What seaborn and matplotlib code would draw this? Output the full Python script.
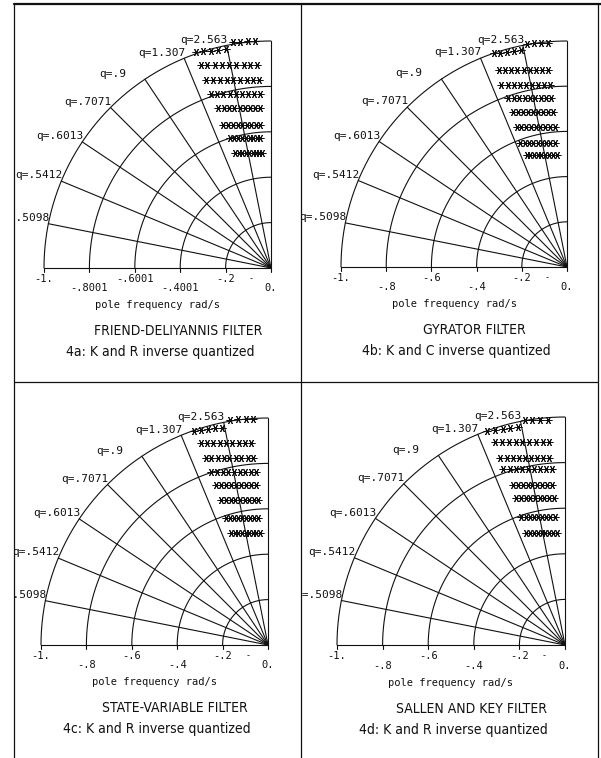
"""
Pole-position plots for four quantized active filters (4a-4d).

Each panel is a quarter of the s-plane with constant-q radial lines,
constant pole-frequency arcs and the quantized pole locations as stars.
"""

import matplotlib
matplotlib.use("Agg")
import matplotlib.pyplot as plt
from matplotlib import font_manager
from matplotlib.lines import Line2D
import numpy as np
import pandas as pd
import seaborn as sns

# ---------------------------------------------------------------------------
# Data
# ---------------------------------------------------------------------------
Q_VALUES = [0.5098, 0.5412, 0.6013, 0.7071, 0.9, 1.307, 2.563]
Q_LABELS = ["q=.5098", "q=.5412", "q=.6013", "q=.7071", "q=.9", "q=1.307", "q=2.563"]
ARC_RADII = [0.2, 0.4, 0.6, 0.8, 1.0]

TICK_VALUES = [-1.0, -0.8, -0.6, -0.4, -0.2, 0.0]
TICK_LABELS_A = ["-1.", "-.8001", "-.6001", "-.4001", "-.2", "0."]
TICK_LABELS = ["-1.", "-.8", "-.6", "-.4", "-.2", "0."]
X_LABEL = "pole frequency rad/s"

TITLES = ["FRIEND-DELIYANNIS FILTER", "GYRATOR FILTER",
          "STATE-VARIABLE FILTER", "SALLEN AND KEY FILTER"]
SUBTITLES = ["4a: K and R inverse quantized", "4b: K and C inverse quantized",
             "4c: K and R inverse quantized", "4d: K and R inverse quantized"]

# star rows (pole locations), top row first
STARS_A_X = [
    [-0.330, -0.298, -0.266, -0.234, -0.200, -0.168, -0.135, -0.103, -0.072],
    [-0.310, -0.280, -0.248, -0.216, -0.184, -0.152, -0.121, -0.091, -0.062],
    [-0.286, -0.256, -0.226, -0.196, -0.166, -0.136, -0.107, -0.079, -0.053],
    [-0.264, -0.238, -0.210, -0.182, -0.155, -0.127, -0.100, -0.073, -0.048],
    [-0.233, -0.209, -0.185, -0.161, -0.137, -0.114, -0.091, -0.069, -0.048],
    [-0.211, -0.190, -0.168, -0.147, -0.126, -0.106, -0.086, -0.067, -0.048],
    [-0.181, -0.163, -0.145, -0.128, -0.111, -0.094, -0.078, -0.063, -0.048],
    [-0.159, -0.143, -0.127, -0.111, -0.096, -0.081, -0.067, -0.053, -0.040],
]
STARS_A_TOP_Y = [0.952, 0.955, 0.958, 0.962, 0.966, 0.995, 0.997, 0.998, 0.999]
STARS_A_ROW_Y = [0.894, 0.828, 0.767, 0.705, 0.630, 0.573, 0.507]

STARS_B_X = [
    [-0.325, -0.295, -0.265, -0.235, -0.205, -0.175, -0.145, -0.113, -0.082],
    [-0.303, -0.276, -0.248, -0.220, -0.192, -0.165, -0.137, -0.110, -0.082],
    [-0.290, -0.263, -0.236, -0.209, -0.183, -0.156, -0.130, -0.103, -0.077],
    [-0.259, -0.235, -0.211, -0.188, -0.164, -0.140, -0.116, -0.093, -0.069],
    [-0.237, -0.215, -0.193, -0.171, -0.149, -0.127, -0.105, -0.082, -0.060],
    [-0.223, -0.202, -0.181, -0.160, -0.139, -0.118, -0.097, -0.076, -0.055],
    [-0.206, -0.187, -0.168, -0.149, -0.130, -0.112, -0.093, -0.074, -0.055],
    [-0.179, -0.162, -0.146, -0.129, -0.113, -0.096, -0.079, -0.063, -0.046],
]
STARS_B_TOP_Y = [0.945, 0.948, 0.951, 0.955, 0.960, 0.988, 0.990, 0.991, 0.992]
STARS_B_ROW_Y = [0.872, 0.805, 0.748, 0.686, 0.619, 0.549, 0.496]

STARS_C_X = [
    [-0.328, -0.297, -0.266, -0.235, -0.204, -0.168, -0.134, -0.099, -0.064],
    [-0.297, -0.269, -0.241, -0.213, -0.185, -0.157, -0.129, -0.101, -0.073],
    [-0.275, -0.249, -0.222, -0.196, -0.170, -0.143, -0.117, -0.090, -0.064],
    [-0.249, -0.224, -0.199, -0.175, -0.150, -0.125, -0.100, -0.076, -0.051],
    [-0.227, -0.205, -0.183, -0.161, -0.139, -0.117, -0.095, -0.073, -0.051],
    [-0.205, -0.185, -0.164, -0.144, -0.124, -0.103, -0.083, -0.062, -0.042],
    [-0.187, -0.169, -0.151, -0.133, -0.115, -0.096, -0.078, -0.060, -0.042],
    [-0.161, -0.146, -0.130, -0.115, -0.099, -0.084, -0.068, -0.053, -0.037],
]
STARS_C_TOP_Y = [0.944, 0.947, 0.950, 0.954, 0.958, 0.992, 0.994, 0.995, 0.996]
STARS_C_ROW_Y = [0.890, 0.824, 0.762, 0.705, 0.639, 0.559, 0.493]

STARS_D_X = [
    [-0.340, -0.307, -0.274, -0.241, -0.208, -0.176, -0.143, -0.110, -0.075],
    [-0.305, -0.275, -0.246, -0.216, -0.187, -0.157, -0.127, -0.098, -0.068],
    [-0.283, -0.256, -0.229, -0.202, -0.176, -0.149, -0.122, -0.095, -0.068],
    [-0.270, -0.243, -0.217, -0.190, -0.164, -0.137, -0.110, -0.084, -0.057],
    [-0.226, -0.205, -0.184, -0.163, -0.143, -0.122, -0.101, -0.080, -0.059],
    [-0.213, -0.193, -0.172, -0.152, -0.132, -0.111, -0.091, -0.070, -0.050],
    [-0.191, -0.173, -0.155, -0.137, -0.119, -0.100, -0.082, -0.064, -0.046],
    [-0.169, -0.152, -0.136, -0.119, -0.103, -0.086, -0.070, -0.053, -0.037],
]
STARS_D_TOP_Y = [0.940, 0.944, 0.948, 0.952, 0.958, 0.985, 0.987, 0.988, 0.989]
STARS_D_ROW_Y = [0.892, 0.819, 0.771, 0.702, 0.643, 0.563, 0.490]

# ---------------------------------------------------------------------------
# Layout (pixels on the 601x758 canvas)
# ---------------------------------------------------------------------------
FIG_W, FIG_H = 601, 758
# cell box (left, top, right, bottom), origin of s-plane, px per unit
PANELS = [
    dict(cell=(14, 4, 301, 382), origin=(271, 268), scale=227),
    dict(cell=(301, 4, 598, 382), origin=(567, 267), scale=226),
    dict(cell=(14, 382, 301, 758), origin=(268, 645), scale=227),
    dict(cell=(301, 382, 598, 758), origin=(565, 645), scale=228),
]

sns.set_theme(style="white")

_fonts = font_manager.fontManager.ttflist
_names = {f.name for f in _fonts}
if "Liberation Sans Narrow" in _names:
    NARROW = dict(family="Liberation Sans Narrow")
elif any(f.name == "DejaVu Sans" and "condensed" in str(f.stretch) for f in _fonts):
    NARROW = dict(family="DejaVu Sans", stretch="condensed")
else:
    NARROW = dict(family="DejaVu Sans")
MONO = dict(family="DejaVu Sans Mono")

plt.rcParams.update({
    "font.family": ["DejaVu Sans"],
    "figure.facecolor": "white",
    "axes.facecolor": "white",
})

INK = "#111111"


def _stars_frame(xs, top_y, row_y):
    ys = [top_y] + [[y] * len(r) for y, r in zip(row_y, xs[1:])]
    return pd.DataFrame({
        "x": [v for r in xs for v in r],
        "y": [v for r in ys for v in r],
    })


def draw_panel(ax, stars, tick_labels, title, subtitle):
    lw = 0.8
    # constant pole-frequency arcs
    th = np.linspace(0, np.pi / 2, 200)
    for r in ARC_RADII:
        ax.plot(-r * np.cos(th), r * np.sin(th), color=INK, lw=lw)

    # real axis and the j-omega axis
    ax.plot([-1, 0], [0, 0], color=INK, lw=lw)
    ax.plot([0, 0], [0, 1], color=INK, lw=lw)

    # constant-q radial lines and their labels
    for q, lab in zip(Q_VALUES, Q_LABELS):
        zeta = 1.0 / (2.0 * q)
        ex, ey = -zeta, np.sqrt(1 - zeta ** 2)
        ax.plot([0, ex], [0, ey], color=INK, lw=lw)
        ax.text(ex - 0.203, ey + 0.012, lab, ha="left", va="baseline",
                fontsize=8, color=INK, clip_on=True, **MONO)

    # ticks below the real axis, labels on two staggered rows
    for i, (tv, tl) in enumerate(zip(TICK_VALUES, tick_labels)):
        ax.plot([tv, tv], [0, -0.016], color=INK, lw=lw)
        ty = -0.050 if i % 2 == 0 else -0.090
        ax.text(tv, ty, tl, ha="center", va="center", fontsize=7.5,
                color=INK, **MONO)
    ax.text(-0.09, -0.048, "-", ha="center", va="center", fontsize=6,
            color=INK, **MONO)

    ax.text(-0.5, -0.165, X_LABEL, ha="center", va="center", fontsize=7.5,
            color=INK, **MONO)
    ax.text(-0.41, -0.279, title, ha="center", va="center", fontsize=10,
            color=INK, **NARROW)
    ax.text(-0.49, -0.371, subtitle, ha="center", va="center", fontsize=10,
            color=INK, **NARROW)

    sns.scatterplot(data=stars, x="x", y="y", ax=ax, marker=(6, 2, 90),
                    color=INK, s=26, linewidth=0.7, legend=False)


fig = plt.figure(figsize=(FIG_W / 100, FIG_H / 100), dpi=100)

stars_all = [
    _stars_frame(STARS_A_X, STARS_A_TOP_Y, STARS_A_ROW_Y),
    _stars_frame(STARS_B_X, STARS_B_TOP_Y, STARS_B_ROW_Y),
    _stars_frame(STARS_C_X, STARS_C_TOP_Y, STARS_C_ROW_Y),
    _stars_frame(STARS_D_X, STARS_D_TOP_Y, STARS_D_ROW_Y),
]
tick_sets = [TICK_LABELS_A, TICK_LABELS, TICK_LABELS, TICK_LABELS]

for p, stars, ticks, title, sub in zip(PANELS, stars_all, tick_sets, TITLES, SUBTITLES):
    l, t, r, b = p["cell"]
    ox, oy = p["origin"]
    s = p["scale"]
    ax = fig.add_axes([l / FIG_W, 1 - b / FIG_H, (r - l) / FIG_W, (b - t) / FIG_H])
    ax.set_xlim((l - ox) / s, (r - ox) / s)
    ax.set_ylim((oy - b) / s, (oy - t) / s)
    ax.axis("off")
    draw_panel(ax, stars, ticks, title, sub)

# panel frame
def _fline(x0, y0, x1, y1, lw=0.9):
    fig.add_artist(Line2D([x0 / FIG_W, x1 / FIG_W], [1 - y0 / FIG_H, 1 - y1 / FIG_H],
                          transform=fig.transFigure, color=INK, lw=lw))

_fline(14, 4, 601, 4, lw=1.6)
_fline(14, 382, 598, 382)
_fline(14, 4, 14, 758)
_fline(301, 4, 301, 758)
_fline(598, 4, 598, 758)

fig.savefig("out.png", dpi=100)
